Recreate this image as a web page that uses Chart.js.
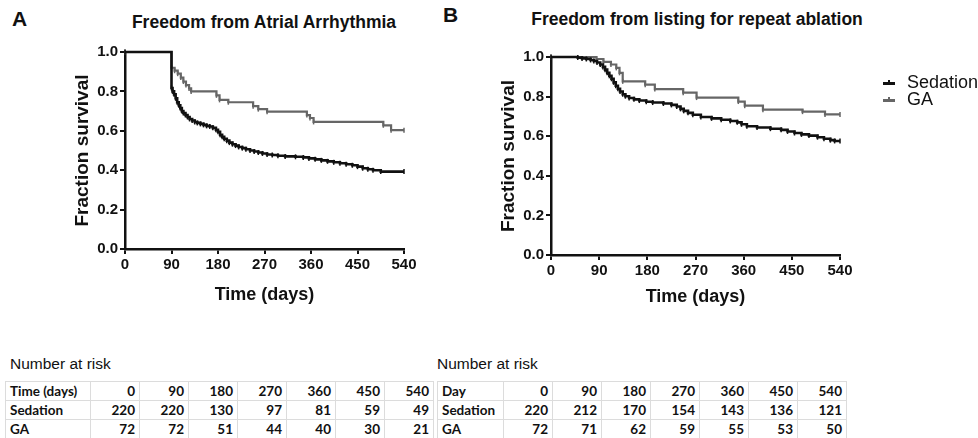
<!DOCTYPE html>
<html>
<head>
<meta charset="utf-8">
<script src="https://cdn.jsdelivr.net/npm/chart.js@4/dist/chart.umd.min.js"></script>
<style>
  html, body { margin:0; padding:0; background:#fff; }
  body { width:978px; height:438px; position:relative; overflow:hidden; font-family:"Liberation Sans", Arial, sans-serif; color:#111; }
  .abs { position:absolute; }
  .letter { font-weight:bold; font-size:21px; }
  .title { font-weight:bold; font-size:17.5px; white-space:nowrap; transform:translateX(-50%); }
  .risk { font-size:15.5px; }
  table { border-collapse:collapse; font-family:Lato, "Liberation Sans", sans-serif; font-weight:bold; font-size:13.5px; color:#111; }
  td { border:1px solid #dcdcdc; height:18px; padding:0 4px; text-align:right; width:40px; line-height:18px; }
  td.first { text-align:left; }
  .leg { font-size:18px; white-space:nowrap; }
  .sym { position:absolute; width:12px; height:3px; }
  .sym::after { content:""; position:absolute; left:5px; top:-2px; width:2px; height:5px; background:inherit; }
</style>
</head>
<body>
<div class="abs letter" style="left:12px;top:7px;">A</div>
<div class="abs letter" style="left:443px;top:3px;">B</div>
<div class="abs title" style="left:264px;top:12px;">Freedom from Atrial Arrhythmia</div>
<div class="abs title" style="left:697px;top:9px;">Freedom from listing for repeat ablation</div>

<canvas id="cA" class="abs" style="left:0;top:0;" width="430" height="310"></canvas>
<canvas id="cB" class="abs" style="left:430px;top:0;" width="548" height="310"></canvas>

<div class="abs sym" style="left:883px;top:82px;background:#111;"></div>
<div class="abs leg" style="left:907px;top:72px;">Sedation</div>
<div class="abs sym" style="left:883px;top:99px;background:#666;"></div>
<div class="abs leg" style="left:907px;top:89px;">GA</div>

<div class="abs risk" style="left:10px;top:355px;">Number at risk</div>
<div class="abs risk" style="left:437px;top:355px;">Number at risk</div>
<div class="abs" id="tA" style="left:5px;top:381px;"></div>
<div class="abs" id="tB" style="left:437px;top:381px;"></div>

<script>
// ---- Data ----
const riskTimes = [0, 90, 180, 270, 360, 450, 540];
const riskSedationA = [220, 220, 130, 97, 81, 59, 49];
const riskGAA = [72, 72, 51, 44, 40, 30, 21];
const riskSedationB = [220, 212, 170, 154, 143, 136, 121];
const riskGAB = [72, 71, 62, 59, 55, 53, 50];
const xTicks = [0, 90, 180, 270, 360, 450, 540];
const yTicks = [0, 0.2, 0.4, 0.6, 0.8, 1.0];

// Kaplan-Meier steps: [time (days), survival after that time]
const sedationA = [[0,1],[90,0.817],[92,0.80],[95,0.785],[98,0.765],[101,0.745],[104,0.73],[107,0.715],[110,0.70],[113,0.69],[117,0.68],[121,0.67],[125,0.66],[130,0.652],[135,0.645],[140,0.64],[146,0.635],[152,0.63],[158,0.625],[164,0.622],[170,0.615],[176,0.605],[180,0.595],[184,0.58],[188,0.57],[192,0.56],[197,0.55],[202,0.54],[208,0.532],[214,0.525],[220,0.518],[227,0.512],[234,0.506],[242,0.50],[250,0.495],[258,0.49],[266,0.485],[275,0.48],[285,0.477],[296,0.473],[310,0.47],[330,0.468],[345,0.465],[356,0.46],[368,0.455],[380,0.45],[392,0.445],[404,0.44],[416,0.435],[428,0.43],[440,0.425],[450,0.418],[460,0.41],[470,0.405],[480,0.40],[495,0.393],[540,0.393]];
const gaA = [[0,1],[90,0.92],[96,0.905],[102,0.89],[108,0.87],[113,0.85],[118,0.832],[124,0.815],[128,0.80],[177,0.78],[183,0.757],[200,0.745],[248,0.725],[258,0.71],[275,0.697],[352,0.68],[358,0.665],[365,0.645],[500,0.628],[515,0.603],[540,0.603]];
const sedationB = [[0,1],[50,0.997],[58,0.993],[66,0.99],[74,0.985],[80,0.98],[86,0.972],[92,0.962],[97,0.95],[101,0.936],[105,0.92],[109,0.905],[113,0.89],[117,0.872],[121,0.855],[125,0.84],[129,0.826],[134,0.812],[139,0.802],[146,0.793],[155,0.786],[165,0.78],[178,0.774],[190,0.77],[210,0.765],[225,0.758],[235,0.75],[242,0.738],[248,0.728],[256,0.718],[265,0.708],[280,0.697],[300,0.69],[318,0.683],[335,0.677],[348,0.67],[356,0.66],[366,0.65],[385,0.644],[410,0.638],[430,0.632],[442,0.624],[455,0.616],[468,0.609],[482,0.603],[498,0.595],[510,0.587],[522,0.58],[530,0.576],[540,0.576]];
const gaB = [[0,1],[85,0.99],[98,0.975],[112,0.962],[122,0.945],[128,0.92],[134,0.877],[176,0.86],[194,0.838],[247,0.82],[272,0.795],[350,0.775],[362,0.754],[396,0.734],[470,0.724],[512,0.71],[540,0.71]];

// ---- Tables ----
function buildTable(el, header, rows) {
  let h = '<table>';
  rows.forEach(r => {
    h += '<tr><td class="first" style="width:' + header + 'px">' + r[0] + '</td>';
    r[1].forEach(v => { h += '<td>' + v + '</td>'; });
    h += '</tr>';
  });
  h += '</table>';
  document.getElementById(el).innerHTML = h;
}
buildTable('tA', 76, [['Time (days)', riskTimes], ['Sedation', riskSedationA], ['GA', riskGAA]]);
buildTable('tB', 57, [['Day', riskTimes], ['Sedation', riskSedationB], ['GA', riskGAB]]);

// ---- Charts ----
const tickFont = { family: '"Liberation Sans", Arial, sans-serif', size: 15, weight: 'bold' };
const xTitleFont = { family: '"Liberation Sans", Arial, sans-serif', size: 18, weight: 'bold' };
const yTitleFont = { family: '"Liberation Sans", Arial, sans-serif', size: 19, weight: 'bold' };

function ds(label, pts, color, width) {
  return {
    label, data: pts.map(p => ({ x: p[0], y: p[1] })),
    borderColor: color, backgroundColor: color, borderWidth: width,
    stepped: 'before', fill: false, clip: false,
    pointStyle: 'line', rotation: 90, pointRadius: 2.5, pointBorderWidth: 1.5,
    pointBorderColor: color, pointHoverRadius: 0
  };
}

function makeChart(id, sed, ga, pad, yW, xH, xTitlePad) {
  new Chart(document.getElementById(id), {
    type: 'line',
    data: { datasets: [ds('Sedation', sed, '#111', 2.6), ds('GA', ga, '#666', 2.2)] },
    options: {
      responsive: false, animation: false,
      layout: { padding: pad },
      plugins: { legend: { display: false }, tooltip: { enabled: false } },
      scales: {
        x: {
          type: 'linear', min: 0, max: 540,
          afterBuildTicks: s => { s.ticks = xTicks.map(v => ({ value: v })); },
          ticks: { font: tickFont, color: '#111', padding: 2, maxRotation: 0 },
          grid: { drawOnChartArea: false, drawTicks: true, tickLength: 5, color: '#111', lineWidth: 2 },
          border: { color: '#111', width: 2.5 },
          title: { display: true, text: 'Time (days)', font: xTitleFont, color: '#111', padding: { top: 0, bottom: xTitlePad } },
          afterFit: s => { s.height = xH; }
        },
        y: {
          type: 'linear', min: 0, max: 1,
          afterBuildTicks: s => { s.ticks = yTicks.map(v => ({ value: v })); },
          ticks: { font: tickFont, color: '#111', padding: 2, callback: v => Number(v).toFixed(1) },
          grid: { drawOnChartArea: false, drawTicks: true, tickLength: 5, color: '#111', lineWidth: 2 },
          border: { color: '#111', width: 2.5 },
          title: { display: true, text: 'Fraction survival', font: yTitleFont, color: '#111', padding: { top: 0, bottom: 0 } },
          afterFit: s => { s.width = yW; }
        }
      }
    }
  });
}

makeChart('cA', sedationA, gaA, { left: 71, right: 26, top: 52, bottom: 0 }, 54, 61, 4);
makeChart('cB', sedationB, gaB, { left: 67, right: 138, top: 57, bottom: 0 }, 54, 55, 2);
</script>
</body>
</html>
